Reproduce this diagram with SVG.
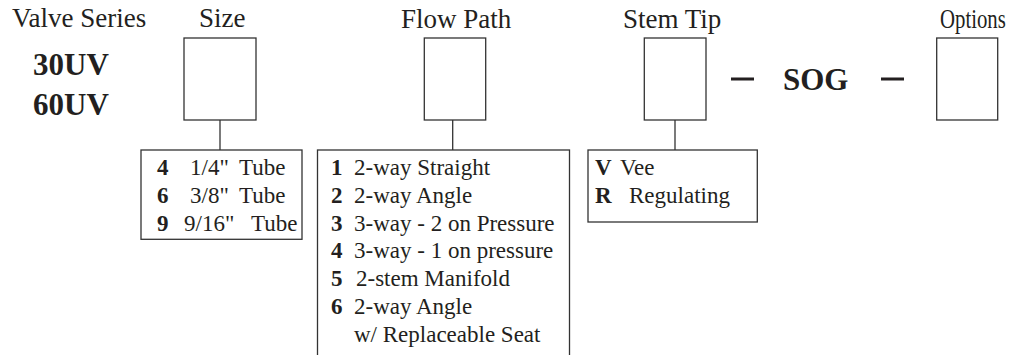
<svg xmlns="http://www.w3.org/2000/svg" width="1012" height="355" viewBox="0 0 1012 355" font-family="'Liberation Serif', 'Times New Roman', serif">
<style>
text,tspan{font-family:"Liberation Serif","Times New Roman",serif}
text{fill:#231f20}
.h{font-size:27px}
.b{font-weight:bold}
.big{font-size:31px;font-weight:bold}
.l{font-size:23px;white-space:pre}
.box{fill:#fff;stroke:#333;stroke-width:1.3}
.con{stroke:#333;stroke-width:1.3;fill:none}
.dash{fill:#231f20}
</style>
<rect width="1012" height="355" fill="#fff"/>
<g id="series">
<text class="h" x="12" y="27">Valve Series</text>
<text class="big" x="33" y="74.5">30UV</text>
<text class="big" x="33" y="115">60UV</text>
</g>
<g id="size">
<text class="h" x="199" y="27">Size</text>
<rect class="box" x="184" y="38" width="72" height="82"/>
</g>
<g id="size-options">
<rect class="box" x="141" y="150" width="161" height="89.3"/>
<text class="l"><tspan class="b" x="157" y="175">4</tspan><tspan x="190" y="175">1/4"</tspan><tspan x="239" y="175">Tube</tspan></text>
<text class="l"><tspan class="b" x="157" y="202.8">6</tspan><tspan x="190" y="202.8">3/8"</tspan><tspan x="239" y="202.8">Tube</tspan></text>
<text class="l"><tspan class="b" x="157" y="230.6">9</tspan><tspan x="184" y="230.6">9/16"</tspan><tspan x="251" y="230.6">Tube</tspan></text>
</g>
<g id="flow">
<text class="h" x="401" y="27.5">Flow Path</text>
<rect class="box" x="424.3" y="38" width="61.4" height="82"/>
</g>
<g id="flow-options">
<rect class="box" x="317.5" y="150" width="252" height="215"/>
<text class="l"><tspan class="b" x="331" y="175">1</tspan><tspan x="354" y="175">2-way Straight</tspan></text>
<text class="l"><tspan class="b" x="331" y="202.8">2</tspan><tspan x="354" y="202.8">2-way Angle</tspan></text>
<text class="l"><tspan class="b" x="331" y="230.6">3</tspan><tspan x="354" y="230.6">3-way - 2 on Pressure</tspan></text>
<text class="l"><tspan class="b" x="331" y="258.4">4</tspan><tspan x="354" y="258.4">3-way - 1 on pressure</tspan></text>
<text class="l"><tspan class="b" x="331" y="286.2">5</tspan><tspan x="356" y="286.2">2-stem Manifold</tspan></text>
<text class="l"><tspan class="b" x="331" y="314">6</tspan><tspan x="354" y="314">2-way Angle</tspan></text>
<text class="l" x="354" y="341.8">w/ Replaceable Seat</text>
</g>
<g id="stem">
<text class="h" x="623" y="27.5">Stem Tip</text>
<rect class="box" x="644.3" y="38" width="61.7" height="82"/>
</g>
<g id="stem-options">
<rect class="box" x="588" y="150" width="169.3" height="72"/>
<text class="l"><tspan class="b" x="595" y="175">V</tspan><tspan x="620" y="175">Vee</tspan></text>
<text class="l"><tspan class="b" x="595" y="203.3">R</tspan><tspan x="629" y="203.3">Regulating</tspan></text>
</g>
<g id="sog">
<rect class="dash" x="731" y="77.5" width="23" height="3"/>
<text class="big" x="783" y="90">SOG</text>
<rect class="dash" x="881" y="77.5" width="23" height="3"/>
</g>
<g id="options">
<text class="h" transform="translate(940,27.5) scale(0.77,1)" x="0" y="0">Options</text>
<rect class="box" x="936.7" y="38" width="61" height="82"/>
</g>
<g id="connectors">
<line class="con" x1="220" y1="120" x2="220" y2="150"/>
<line class="con" x1="452.7" y1="120" x2="452.7" y2="150"/>
<line class="con" x1="675" y1="120" x2="675" y2="150"/>
</g>
</svg>
